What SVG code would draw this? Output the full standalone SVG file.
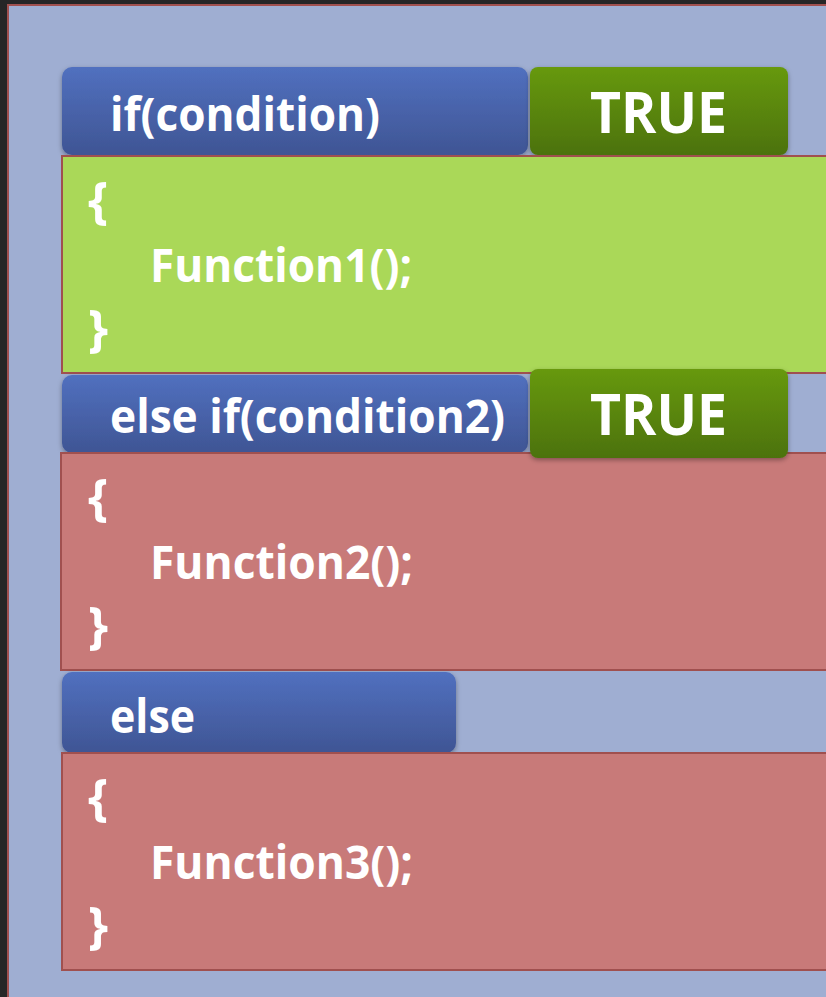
<svg xmlns="http://www.w3.org/2000/svg" width="826" height="997" viewBox="0 0 826 997">
<defs>
<linearGradient id="gBlue" x1="0" y1="0" x2="0" y2="1"><stop offset="0" stop-color="#5170BF"/><stop offset="1" stop-color="#3F5594"/></linearGradient>
<linearGradient id="gGreen" x1="0" y1="0" x2="0" y2="1"><stop offset="0" stop-color="#67990D"/><stop offset="1" stop-color="#4C720A"/></linearGradient>
<filter id="sh" x="-10%" y="-20%" width="120%" height="150%"><feDropShadow dx="0" dy="2" stdDeviation="2.5" flood-color="#000" flood-opacity="0.35"/></filter>
<style>
.hdr{fill:url(#gBlue);filter:url(#sh)}
.tru{fill:url(#gGreen);filter:url(#sh)}
.blk{stroke:#A0504F;stroke-width:2}
.t{font-family:"Open Sans","Noto Sans","Liberation Sans",sans-serif;font-weight:bold;fill:#FFFFFF}
.h{font-size:46px}
.b{font-size:51px}
.big{font-size:57px}
</style>
</defs>
<rect x="0" y="0" width="826" height="997" fill="#262626"/>
<rect x="8" y="5" width="830" height="1000" fill="#9FAED2" stroke="#A0504F" stroke-width="2"/>
<g id="if-header">
<rect class="hdr" x="62" y="67" width="466" height="88" rx="10"/>
<text class="t h" x="110" y="131" textLength="270" lengthAdjust="spacingAndGlyphs">if(condition)</text>
</g>
<g id="true1">
<rect class="tru" x="530" y="67" width="258" height="88" rx="8"/>
<text class="t big" x="590" y="133" textLength="137" lengthAdjust="spacingAndGlyphs">TRUE</text>
</g>
<g id="block1">
<rect class="blk" x="62" y="156" width="780" height="217" fill="#AAD858"/>
<text class="t b" x="88" y="218">{</text>
<text class="t h" x="150" y="282" textLength="262" lengthAdjust="spacingAndGlyphs">Function1();</text>
<text class="t b" x="88" y="346">}</text>
</g>
<g id="elseif-header">
<rect class="hdr" x="62" y="375" width="466" height="78" rx="10"/>
<text class="t h" x="110" y="433" textLength="395" lengthAdjust="spacingAndGlyphs">else if(condition2)</text>
</g>
<g id="block2">
<rect class="blk" x="61" y="453" width="780" height="217" fill="#C87A79"/>
<text class="t b" x="88" y="515">{</text>
<text class="t h" x="150" y="579" textLength="263" lengthAdjust="spacingAndGlyphs">Function2();</text>
<text class="t b" x="88" y="643">}</text>
</g>
<g id="true2">
<rect class="tru" x="530" y="369" width="258" height="89" rx="8"/>
<text class="t big" x="590" y="435" textLength="137" lengthAdjust="spacingAndGlyphs">TRUE</text>
</g>
<g id="else-header">
<rect class="hdr" x="62" y="672" width="394" height="81" rx="10"/>
<text class="t h" x="110" y="733" textLength="85" lengthAdjust="spacingAndGlyphs">else</text>
</g>
<g id="block3">
<rect class="blk" x="62" y="753" width="780" height="217" fill="#C87A79"/>
<text class="t b" x="88" y="815">{</text>
<text class="t h" x="150" y="879" textLength="263" lengthAdjust="spacingAndGlyphs">Function3();</text>
<text class="t b" x="88" y="943">}</text>
</g>
<g id="connectors"></g>
</svg>
